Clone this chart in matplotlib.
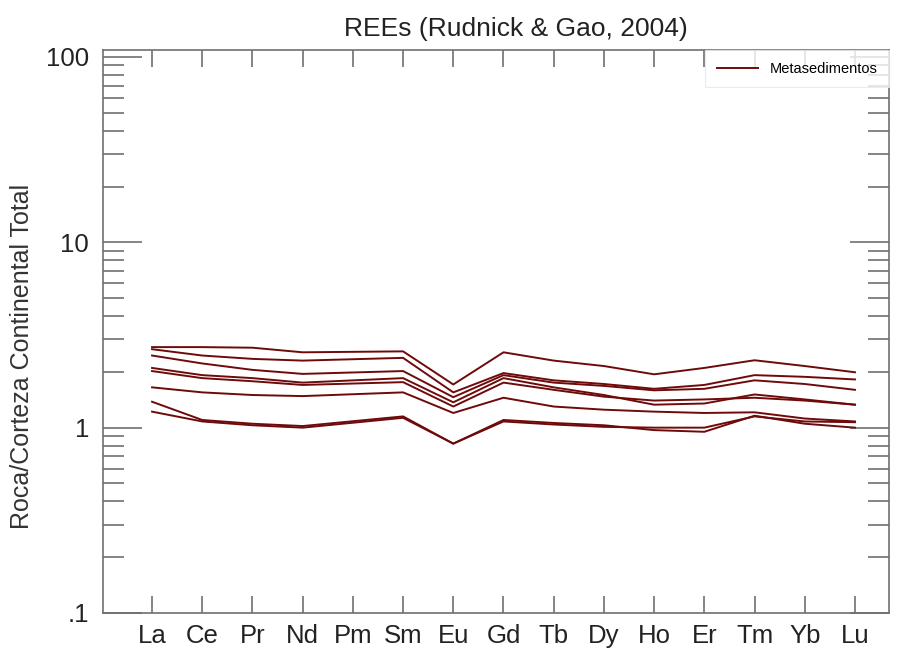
import numpy as np
import matplotlib
matplotlib.use("Agg")
import matplotlib.pyplot as plt
from matplotlib.ticker import LogLocator, FixedFormatter, FixedLocator, NullFormatter

plt.rcParams['font.family'] = ['Liberation Sans', 'DejaVu Sans']

# ── Data (rock / total continental crust, Rudnick & Gao 2004) ──
elements = ['La', 'Ce', 'Pr', 'Nd', 'Pm', 'Sm', 'Eu', 'Gd', 'Tb', 'Dy', 'Ho', 'Er', 'Tm', 'Yb', 'Lu']
# Pm not measured -> nan (line joins Nd to Sm)
s1 = [2.72, 2.72, 2.70, 2.55, np.nan, 2.58, 1.71, 2.55, 2.30, 2.15, 1.94, 2.10, 2.31, 2.15, 1.99]
s2 = [2.65, 2.45, 2.35, 2.30, np.nan, 2.38, 1.55, 1.97, 1.80, 1.72, 1.62, 1.70, 1.92, 1.88, 1.82]
s3 = [2.45, 2.22, 2.05, 1.95, np.nan, 2.02, 1.46, 1.92, 1.75, 1.68, 1.59, 1.62, 1.80, 1.72, 1.60]
s4 = [2.10, 1.92, 1.85, 1.75, np.nan, 1.85, 1.37, 1.85, 1.65, 1.50, 1.33, 1.35, 1.51, 1.42, 1.33]
s5 = [2.02, 1.85, 1.78, 1.70, np.nan, 1.76, 1.30, 1.75, 1.60, 1.47, 1.40, 1.42, 1.45, 1.40, 1.33]
s6 = [1.65, 1.55, 1.50, 1.48, np.nan, 1.55, 1.20, 1.45, 1.30, 1.25, 1.22, 1.20, 1.21, 1.12, 1.08]
s7 = [1.38, 1.10, 1.05, 1.02, np.nan, 1.15, 0.82, 1.10, 1.06, 1.03, 0.97, 0.95, 1.16, 1.05, 1.00]
s8 = [1.22, 1.08, 1.03, 1.00, np.nan, 1.13, 0.82, 1.08, 1.04, 1.01, 1.00, 1.00, 1.15, 1.08, 1.07]
samples = [s1, s2, s3, s4, s5, s6, s7, s8]

yticks = [0.1, 1, 10, 100]
ylabels = ['.1', '1', '10', '100']

line_color = '#6e0a0a'
axis_color = '#707070'

fig = plt.figure(figsize=(8.99, 6.54), dpi=100)
ax = fig.add_axes([0.1146, 0.0627, 0.8744, 0.8608])

x = np.arange(len(elements))
for i, s in enumerate(samples):
    s = np.array(s, dtype=float)
    ok = ~np.isnan(s)
    ax.plot(x[ok], s[ok], color=line_color, linewidth=1.4,
            label='Metasedimentos' if i == 0 else None)

ax.set_yscale('log')
ax.set_ylim(0.1, 109)
ax.set_xlim(-0.976, 14.68)

ax.yaxis.set_major_locator(FixedLocator(yticks))
ax.yaxis.set_major_formatter(FixedFormatter(ylabels))
ax.yaxis.set_minor_locator(LogLocator(base=10, subs=np.arange(2, 10)))
ax.yaxis.set_minor_formatter(NullFormatter())
ax.set_xticks(x)
ax.set_xticklabels(elements)

ax.tick_params(axis='y', which='major', direction='in', length=28, width=1.2,
               color=axis_color, labelsize=18.5, pad=10, right=True, labelcolor='#222222')
ax.tick_params(axis='y', which='minor', direction='in', length=15, width=1.2,
               color=axis_color, right=True)
ax.tick_params(axis='x', which='major', direction='in', length=12, width=1.2,
               color=axis_color, labelsize=18.5, pad=8, top=True, labelcolor='#222222')
for sp in ax.spines.values():
    sp.set_color(axis_color)
    sp.set_linewidth(1.2)

ax.set_ylabel('Roca/Corteza Continental Total', fontsize=18, color='#333333')
ax.yaxis.set_label_coords(-0.088, 0.455)
ax.set_title('REEs (Rudnick & Gao, 2004)', fontsize=19, color='#222222', pad=10, x=0.525)

leg = ax.legend(loc='upper right', fontsize=10.5, frameon=True, fancybox=False,
                handlelength=2.8, borderaxespad=0.0, borderpad=0.8,
                bbox_to_anchor=(1.0, 1.0))
leg.get_frame().set_edgecolor('#e6e6e6')
leg.get_frame().set_linewidth(0.8)

plt.savefig('out.png', dpi=100)
